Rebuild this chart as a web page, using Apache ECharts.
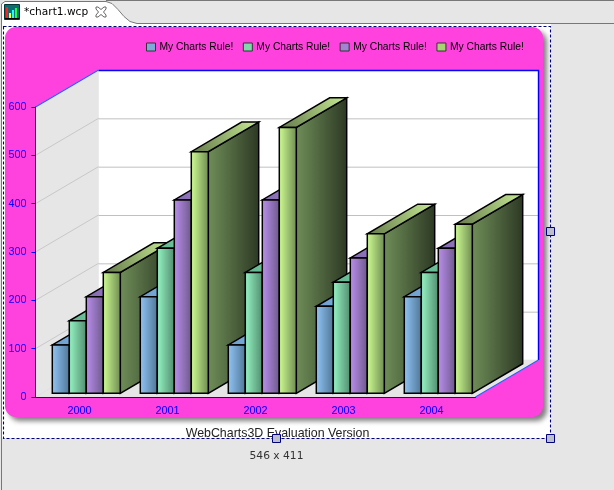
<!DOCTYPE html>
<html><head><meta charset="utf-8">
<style>html,body{margin:0;padding:0;background:#e6e6e6}#c{width:614px;height:490px}</style>
<script src="https://cdn.jsdelivr.net/npm/echarts@6/dist/echarts.min.js"></script>
</head><body><div id="c"></div>
<script>
const categories = ['2000','2001','2002','2003','2004'];
const legendLabel = 'My Charts Rule!';
const seriesBlue   = [100,200,100,180,200];
const seriesGreen  = [150,300,250,230,250];
const seriesPurple = [200,400,400,280,300];
const seriesOlive  = [250,500,550,330,350];
const gridTicks = [100,200,300,400,500];
const tabTitle = '*chart1.wcp';
const footerText = 'WebCharts3D Evaluation Version';
const sizeText = '546 x 411';

const DX = 63, DY = 37, FRONT = 0.1, BACK = 0.9, BAR_W = 17, NUDGE = 0.5;
const grad = (a,b,x2=1,y2=0,y=0,x=0)=>new echarts.graphic.LinearGradient(x,y,x2,y2,[{offset:0,color:a},{offset:1,color:b}]);
const looks = [
 {c:'#7fa9d9',f:['#93c6f7','#4d7495'],s:['#4f7290','#26384a'],t:['#6a9ac8','#9ad0ff']},
 {c:'#7fd9ab',f:['#98f7c6','#4f8a6c'],s:['#4f8a6c','#264536'],t:['#5fb08a','#98f8c8']},
 {c:'#a483d6',f:['#bd90ee','#6b5889'],s:['#6b5889','#342b45'],t:['#8068ac','#c096f2']},
 {c:'#a9d272',f:['#d2ff94','#6c8a50'],s:['#6f8e58','#2c3823'],t:['#63784a','#c8ec94']}
];
function barItem(s){
  return function(params, api){
    const cat = api.value(0), val = api.value(1);
    const b = api.coord([cat,0]), t = api.coord([cat,val]);
    const x0 = b[0] + NUDGE + DX*FRONT - 2*BAR_W + s*BAR_W, x1 = x0 + BAR_W;
    const yb = b[1] - DY*FRONT, yt = t[1] - DY*FRONT;
    const dx = DX*(BACK-FRONT), dy = DY*(BACK-FRONT);
    const L = looks[s], z = cat*100 + s*10;
    const stroke = {stroke:'#000',lineWidth:1.5,lineJoin:'miter'};
    return {type:'group',children:[
      {type:'polygon',z2:z+1,shape:{points:[[x1,yb],[x1+dx,yb-dy],[x1+dx,yt-dy],[x1,yt]]},
       style:{fill:grad(L.s[0],L.s[1]),...stroke}},
      {type:'polygon',z2:z+2,shape:{points:[[x0,yt],[x1,yt],[x1+dx,yt-dy],[x0+dx,yt-dy]]},
       style:{fill:grad(L.t[0],L.t[1],1,0,1,0),...stroke}},
      {type:'rect',z2:z+3,shape:{x:x0,y:yt,width:BAR_W,height:yb-yt},
       style:{fill:grad(L.f[0],L.f[1]),...stroke}}
    ]};
  };
}
function wallItem(params, api){
  const cs = params.coordSys, v = api.value(1), y = api.coord([0,v])[1];
  const kids = [];
  const xL = cs.x, xR = cs.x+cs.width, yT = cs.y, yB = cs.y+cs.height;
  const plane = {fill:'#e6e6e6',stroke:'#e6e6e6',lineWidth:0.6};
  if(params.dataIndex===0){
    kids.push(
     {type:'rect',z2:0,shape:{x:xL+DX-1,y:yT-DY,width:cs.width+1,height:cs.height},style:{fill:'#fff'}},
     {type:'polygon',z2:1,shape:{points:[[xL,yT],[xL+DX,yT-DY],[xL+DX,yB-DY],[xL,yB]]},style:plane},
     {type:'polygon',z2:1,shape:{points:[[xL,yB],[xL+DX,yB-DY],[xR+DX,yB-DY],[xR,yB]]},style:plane},
     {type:'polyline',z2:5,shape:{points:[[xL,yT],[xL+DX,yT-DY]]},style:{stroke:'#2a5cff',lineWidth:1.2,fill:null}},
     {type:'polyline',z2:5,shape:{points:[[xL+DX,yT-DY+.5],[xR+DX,yT-DY+.5],[xR+DX,yB-DY]]},style:{stroke:'#0000f0',lineWidth:1.4,fill:null}},
     {type:'polyline',z2:5,shape:{points:[[xR,yB],[xR+DX,yB-DY]]},style:{stroke:'#2a5cff',lineWidth:1.2,fill:null}}
    );
  }
  kids.push(
    {type:'polyline',z2:3,shape:{points:[[xL,y],[xL+DX,y-DY]]},style:{stroke:'#c8c8c8',lineWidth:1,fill:null}},
    {type:'polyline',z2:3,shape:{points:[[xL+DX,y-DY+.5],[xR+DX,y-DY+.5]]},style:{stroke:'#c0c0c0',lineWidth:1,fill:null}}
  );
  return {type:'group',children:kids};
}
const seriesValues = [seriesBlue,seriesGreen,seriesPurple,seriesOlive];
const names = ['S1','S2','S3','S4'];
const NAVY = '#000080';
const handle = (cx,cy)=>({type:'rect',z:60,shape:{x:cx-4,y:cy-4,width:8,height:8},style:{fill:'#bcc0cc',stroke:NAVY,lineWidth:1}});
const chrome = [
 {type:'rect',z:-9,shape:{x:0,y:0,width:614,height:490},style:{fill:'#e6e6e6'}},
 {type:'rect',z:-8,shape:{x:2,y:24,width:549,height:414},style:{fill:'#fff'}},
 {type:'polygon',z:-8,shape:{points:[[2,24],[2,4],[5,1],[106,1],[112,3],[118,9],[124,16],[130,21],[138,24]]},style:{fill:'#fff'}},
 {type:'polyline',z:-7,shape:{points:[[1.5,490],[1.5,4],[5,1.5],[106,1.5],[112,3.5],[118,9.5],[124,16.5],[130,21.5],[137,23.5],[614,23.5]]},style:{stroke:'#777',lineWidth:1,fill:null}},
 {type:'line',z:-7,shape:{x1:106,y1:.5,x2:614,y2:.5},style:{stroke:'#777',lineWidth:1}},
 {type:'rect',z:-6,shape:{x:5,y:27,width:538,height:390,r:11},style:{fill:'#ff42dd',shadowBlur:5,shadowOffsetX:4,shadowOffsetY:4,shadowColor:'rgba(60,60,60,.65)'}},
 // tab icon
 {type:'rect',z:-5,shape:{x:4.5,y:4.5,width:15,height:15},style:{fill:'#0b6d6d',stroke:'#033',lineWidth:1}},
 {type:'rect',z:-4,shape:{x:6,y:7,width:2,height:11},style:{fill:'#ff2020'}},
 {type:'rect',z:-4,shape:{x:9,y:13,width:2,height:5},style:{fill:'#ffff30'}},
 {type:'rect',z:-4,shape:{x:12,y:10,width:2,height:8},style:{fill:'#20ffff'}},
 {type:'rect',z:-4,shape:{x:15,y:8,width:2,height:10},style:{fill:'#20ff40'}},
 {type:'line',z:-4,shape:{x1:5,y1:18.5,x2:19,y2:18.5},style:{stroke:'#000',lineWidth:1}},
 {type:'text',z:-4,style:{text:tabTitle,x:24,y:7,fill:'#000',font:'10.6px "DejaVu Sans"'}},
 {type:'polygon',z:-4,shape:{points:[[96,7],[98,7],[101,9.5],[104,7],[106,7],[106,9],[103.5,12],[106,15],[106,17],[104,17],[101,14.5],[98,17],[96,17],[96,15],[98.5,12],[96,9]]},style:{fill:'#fff',stroke:'#666',lineWidth:1}},
 // selection
 {type:'rect',z:50,shape:{x:3.5,y:26.5,width:547,height:412},style:{fill:'none',stroke:NAVY,lineWidth:1.1,lineDash:[3,2]}},
 handle(550.5,231.5),handle(550.5,438.5),handle(276.5,438.5),
 {type:'text',z:49,style:{text:footerText,x:277.5,y:428,align:'center',fill:'#222',font:'12.4px "Liberation Sans"'}},
 {type:'text',z:49,style:{text:sizeText,x:276.5,y:451,align:'center',fill:'#333',font:'10.7px "DejaVu Sans"'}}
];
const option = {
  animation:false,
  backgroundColor:'#e6e6e6',
  grid:{left:35.5,top:107,width:440,height:290,containLabel:false},
  legend:{
    left:141,top:37,itemWidth:9,itemHeight:8,itemGap:9.5,
    selectedMode:false,icon:'rect',
    data:names,
    formatter:()=>legendLabel,
    itemStyle:{borderColor:'#333',borderWidth:1},
    textStyle:{color:'#000',fontFamily:'Liberation Sans',fontSize:10.3,padding:[0,0,0,-1]}
  },
  xAxis:{type:'category',data:categories,z:5,
    axisLine:{lineStyle:{color:'#0000ff',width:1}},
    axisTick:{alignWithLabel:true,length:4,lineStyle:{color:'#0000ff'}},
    axisLabel:{color:'#0000ff',fontFamily:'Liberation Sans',fontSize:10.8,margin:9},
    splitLine:{show:false}},
  yAxis:{type:'value',min:0,max:600,interval:100,z:5,
    axisLine:{show:true,lineStyle:{color:'#0000ff',width:1}},
    axisTick:{show:true,length:4,lineStyle:{color:'#0000ff'}},
    axisLabel:{color:'#0000ff',fontFamily:'Liberation Sans',fontSize:10.8,margin:9},
    splitLine:{show:false}},
  graphic:{elements:chrome},
  series:[
    {type:'custom',name:'wall',z:1,silent:true,coordinateSystem:'cartesian2d',
     data:gridTicks.map(v=>[0,v]),encode:{x:0,y:1},renderItem:wallItem},
    ...seriesValues.map((vals,s)=>({
      type:'custom',name:names[s],z:3,silent:true,coordinateSystem:'cartesian2d',
      itemStyle:{color:looks[s].c},
      data:vals.map((v,i)=>[i,v]),encode:{x:0,y:1},renderItem:barItem(s)
    }))
  ]
};
echarts.init(document.getElementById('c')).setOption(option);
</script></body></html>
